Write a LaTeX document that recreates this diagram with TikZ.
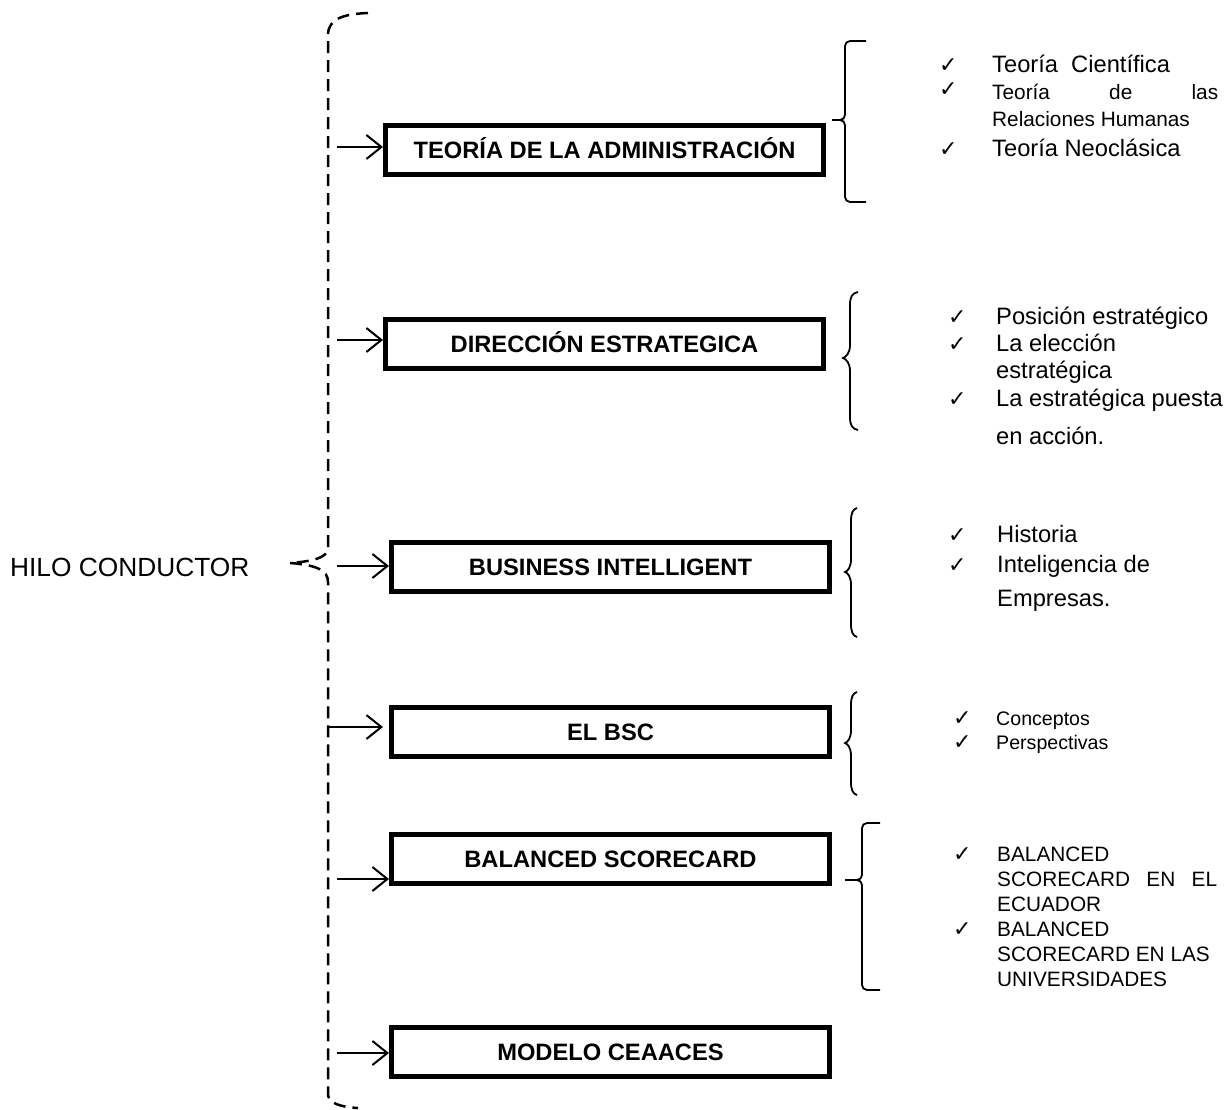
\documentclass[tikz,border=0pt]{standalone}
\usepackage{fontspec}
\setmainfont{Liberation Sans}
\newfontfamily\symfont{DejaVu Sans}
\usetikzlibrary{arrows.meta}

% curly brace opening to the right: x of ends, x of spine, x of tip, y top, y tip, y bottom
\newcommand\bracecurve[6]{%
  \draw[bracket] (#1,#4) .. controls ({#2+2},{#4+1}) and (#2,{#4+5}) .. (#2,{#4+13})
    -- (#2,{#5-13}) .. controls (#2,{#5-5}) and ({#3+3},{#5-1}) .. (#3,#5)
    .. controls ({#3+3},{#5+1}) and (#2,{#5+5}) .. (#2,{#5+13})
    -- (#2,{#6-13}) .. controls (#2,{#6-5}) and ({#2+2},{#6-1}) .. (#1,#6);}
% square-ended brace with a short middle tip
\newcommand\bracesquare[6]{%
  \draw[bracket, rounded corners=5pt] (#1,#4) -- (#2,#4) -- (#2,#5) -- (#3,#5);
  \draw[bracket, rounded corners=5pt] (#3,#5) -- (#2,#5) -- (#2,#6) -- (#1,#6);}

\begin{document}
\begin{tikzpicture}[x=1pt,y=-1pt,
  topic/.style={draw, line width=5pt, rectangle, inner sep=0pt,
    minimum width=438pt, minimum height=49pt, text height=17pt, text depth=0pt,
    font=\fontsize{23.7}{28}\selectfont\bfseries},
  link/.style={line width=2pt, -{Straight Barb[length=15pt,width=24pt,line width=2pt]}},
  thread/.style={line width=2.5pt, dash pattern=on 12pt off 7pt},
  bracket/.style={line width=1.8pt},
  item/.style={anchor=base west, inner sep=0pt},
  big/.style={item, font=\fontsize{23.7}{28}\selectfont},
  mid/.style={item, font=\fontsize{20.8}{25}\selectfont},
  small/.style={item, font=\fontsize{19.6}{24}\selectfont},
  tick/.style={anchor=base west, inner sep=0pt, font=\symfont\fontsize{22}{22}\selectfont},
]
\useasboundingbox (0,0) rectangle (1232,1110);

% central title
\node[anchor=west, inner sep=0pt, font=\fontsize{26.3}{30}\selectfont] (hilo) at (10,567.5) {HILO CONDUCTOR};

% the dashed brace gathering all topics
\draw[thread] (368,13) .. controls (345,14) and (328,18) .. (328,35) -- (328,548)
  .. controls (328,556) and (318,561) .. (290,563);
\draw[thread] (290,563) .. controls (318,565) and (328,571) .. (328,582) -- (328,1094)
  .. controls (328,1103) and (340,1107) .. (358,1108);

% topic boxes
\node[topic] (b1) at (604.5,150) {TEORÍA DE LA ADMINISTRACIÓN};
\node[topic] (b2) at (604.5,343.5) {DIRECCIÓN ESTRATEGICA};
\node[topic] (b3) at (610.5,566.5) {BUSINESS INTELLIGENT};
\node[topic] (b4) at (610.5,731.5) {EL BSC};
\node[topic] (b5) at (610.5,859) {BALANCED SCORECARD};
\node[topic] (b6) at (610.5,1052) {MODELO CEAACES};

% arrows from the thread to each box
\coordinate (s1) at (337,147);
\coordinate (s2) at (337,340);
\coordinate (s3) at (337,566);
\coordinate (s4) at (328,727);
\coordinate (s5) at (337,879);
\coordinate (s6) at (337,1053);
\draw[link] (s1) -- (s1 -| b1.west);
\draw[link] (s2) -- (s2 -| b2.west);
\draw[link] (s3) -- (s3 -| b3.west);
\draw[link, shorten >=6pt] (s4) -- (s4 -| b4.west);
\draw[link] (s5) -- (s5 -| b5.west);
\draw[link] (s6) -- (s6 -| b6.west);

% braces
\bracesquare{866}{845}{832}{41}{120}{202}
\bracecurve{858}{850}{843}{292}{358}{430}
\bracecurve{857}{851}{845}{508}{572}{637}
\bracecurve{857}{851}{845}{692}{743}{795}
\bracesquare{880}{862}{845}{823}{880}{990}

% list 1
\node[tick] (k11) at (939,73) {✓};
\node[big] (t11) at (992,73) {Teoría\ \ Científica};
\node[tick] (k12) at (939,97) {✓};
\node[mid] (t12) at (992,100) {\makebox[226pt][s]{Teoría\hfill de\hfill las}};
\node[mid] (t13) at (992,127) {Relaciones Humanas};
\node[tick] (k14) at (939,157) {✓};
\node[big] (t14) at (992,157) {Teoría Neoclásica};

% list 2
\node[tick] (k21) at (948,324) {✓};
\node[big] (t21) at (996,324) {Posición estratégico};
\node[tick] (k22) at (948,351) {✓};
\node[big] (t22) at (996,351) {La elección};
\node[big] (t23) at (996,378) {estratégica};
\node[tick] (k24) at (948,406) {✓};
\node[big] (t24) at (996,406) {La estratégica puesta};
\node[big] (t25) at (996,444) {en acción.};

% list 3
\node[tick] (k31) at (948,542) {✓};
\node[big] (t31) at (997,542) {Historia};
\node[tick] (k32) at (948,572) {✓};
\node[big] (t32) at (997,572) {Inteligencia de};
\node[big] (t33) at (997,606) {Empresas.};

% list 4
\node[tick] (k41) at (953,725) {✓};
\node[small] (t41) at (996,725) {Conceptos};
\node[tick] (k42) at (953,749) {✓};
\node[small] (t42) at (996,749) {Perspectivas};

% list 5
\node[tick] (k51) at (953,861) {✓};
\node[mid] (t51) at (997,861) {BALANCED};
\node[mid] (t52) at (997,886) {\makebox[220pt][s]{SCORECARD\hfill EN\hfill EL}};
\node[mid] (t53) at (997,911) {ECUADOR};
\node[tick] (k54) at (953,936) {✓};
\node[mid] (t54) at (997,936) {BALANCED};
\node[mid] (t55) at (997,961) {SCORECARD EN LAS};
\node[mid] (t56) at (997,986) {UNIVERSIDADES};
\end{tikzpicture}
\end{document}
